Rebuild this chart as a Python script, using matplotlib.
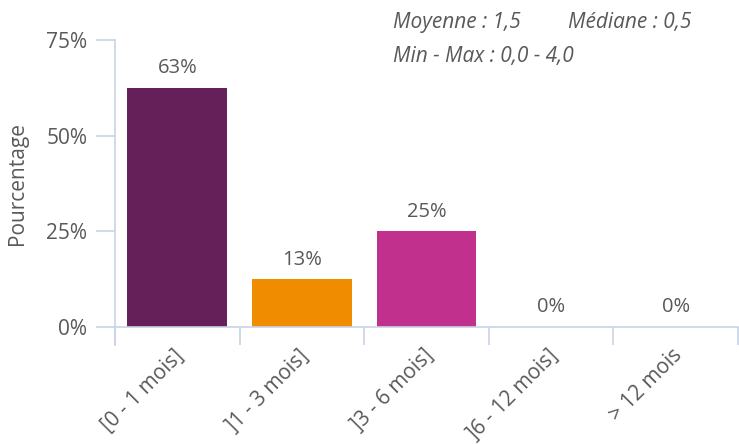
import matplotlib.pyplot as plt
from matplotlib.ticker import FixedLocator, NullFormatter

categories = ['[0 - 1 mois]', ']1 - 3 mois]', ']3 - 6 mois]', ']6 - 12 mois]', '> 12 mois']
values = [62.5, 12.5, 25.0, 0.0, 0.0]
value_labels = ['63%', '13%', '25%', '0%', '0%']
colors = ['#65205a', '#f08c00', '#c0308c', '#c0308c', '#c0308c']
y_ticks = [0, 25, 50, 75]

plt.rcParams['font.family'] = ['Open Sans', 'DejaVu Sans']
text_color = '#595959'
axis_color = '#c9d3e6'
fs = 15

fig = plt.figure(figsize=(7.39, 4.44), dpi=100)
ax = fig.add_axes([0.1556, 0.2635, 0.843, 0.6465])

x = list(range(len(categories)))
ax.bar(x, values, width=0.8, color=colors)

for xi, v, lab in zip(x, values, value_labels):
    ax.text(xi, v + 2.5, lab, ha='center', va='bottom', fontsize=fs - 0.5, color=text_color)

ax.set_xlim(-0.5, len(categories) - 0.5)
ax.set_ylim(0, 75)

# y axis
ax.set_yticks(y_ticks)
ax.set_yticklabels([f'{t}%' for t in y_ticks])
ax.tick_params(axis='y', length=14, width=1.2, color=axis_color, labelsize=fs,
               labelcolor=text_color, pad=6)

# x axis: ticks at category boundaries, labels at centers
ax.xaxis.set_major_locator(FixedLocator([i - 0.5 for i in range(len(categories) + 1)]))
ax.xaxis.set_major_formatter(NullFormatter())
ax.tick_params(axis='x', length=13, width=1.2, color=axis_color)
for xi, c in zip(x, categories):
    ax.annotate(c, xy=(xi, 0), xycoords=('data', 'axes fraction'),
                xytext=(-3, -13), textcoords='offset points',
                rotation=45, ha='right', va='top', rotation_mode='anchor',
                fontsize=fs, color=text_color)

for side in ['top', 'right']:
    ax.spines[side].set_visible(False)
ax.spines['left'].set_color(axis_color)
ax.spines['left'].set_linewidth(1.2)
ax.spines['left'].set_bounds(-4.8, 75)
ax.spines['bottom'].set_color(axis_color)
ax.spines['bottom'].set_linewidth(1.2)

ax.set_ylabel('Pourcentage', fontsize=fs, color=text_color)
ax.yaxis.set_label_coords(-0.14, 0.5)

fig.text(0.532, 0.95, 'Moyenne : 1,5', fontsize=fs,
         style='italic', color=text_color, va='center')
fig.text(0.769, 0.95, 'Médiane : 0,5', fontsize=fs,
         style='italic', color=text_color, va='center')
fig.text(0.532, 0.872, 'Min - Max : 0,0 - 4,0', fontsize=fs,
         style='italic', color=text_color, va='center')

fig.savefig('out.png', dpi=100)
